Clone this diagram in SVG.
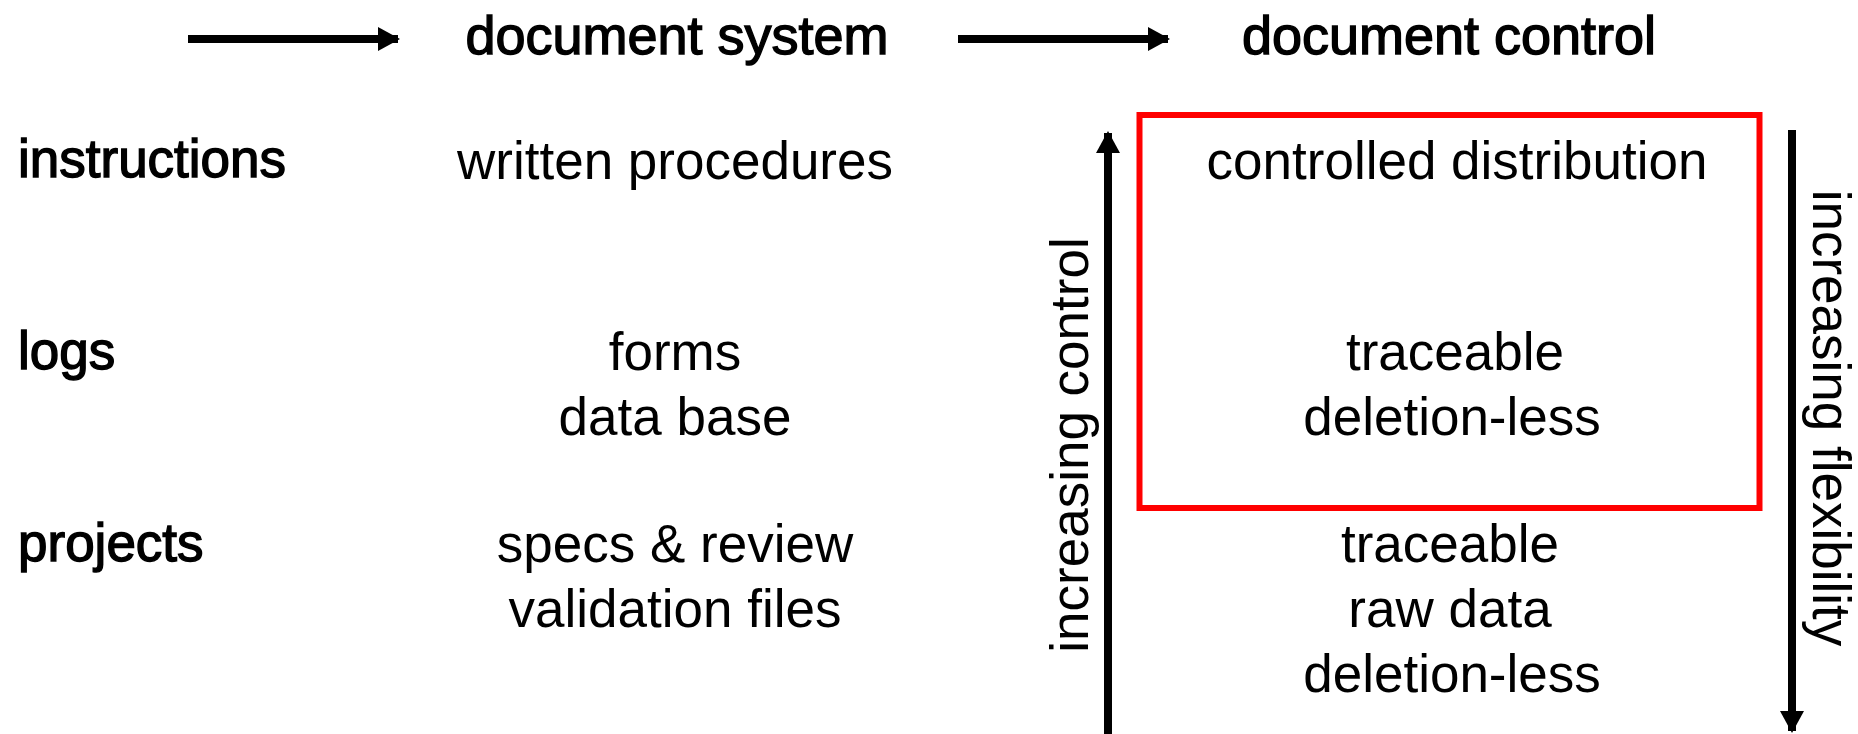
<svg xmlns="http://www.w3.org/2000/svg" width="1858" height="734" viewBox="0 0 1858 734">
<defs>
<style>
text{font-family:"Liberation Sans",Arial,sans-serif;font-size:53px;fill:#000}
.c{text-anchor:middle}
.b{stroke:#000;stroke-width:1.4}
.h{font-size:54px}
.ln{stroke:#000;stroke-width:8;fill:none}
</style>
<marker id="ah" viewBox="0 0 22 24" refX="20" refY="12" markerWidth="22" markerHeight="24" markerUnits="userSpaceOnUse" orient="auto">
<path d="M0,0 L22,12 L0,24 Z" fill="#000"/>
</marker>
</defs>
<rect width="1858" height="734" fill="#fff"/>
<g id="connectors">
<line class="ln" x1="188" y1="39" x2="398" y2="39" marker-end="url(#ah)"/>
<line class="ln" x1="958" y1="39" x2="1168" y2="39" marker-end="url(#ah)"/>
<line class="ln" x1="1108" y1="734" x2="1108" y2="133" marker-end="url(#ah)"/>
<line class="ln" x1="1792" y1="130" x2="1792" y2="731" marker-end="url(#ah)"/>
</g>
<g id="header-system"><text class="c b h" x="677" y="54">document system</text></g>
<g id="header-control"><text class="c b h" x="1449" y="54">document control</text></g>
<g id="row-instructions"><text class="b" x="18" y="177">instructions</text></g>
<g id="row-logs"><text class="b" x="18" y="369">logs</text></g>
<g id="row-projects"><text class="b" x="18" y="561">projects</text></g>
<g id="sys-instructions"><text class="c" x="675" y="179">written procedures</text></g>
<g id="sys-logs"><text class="c" x="675" y="370">forms</text><text class="c" x="675" y="435">data base</text></g>
<g id="sys-projects"><text class="c" x="675" y="562">specs &amp; review</text><text class="c" x="675" y="627">validation files</text></g>
<g id="control-box">
<rect x="1139.5" y="115" width="620" height="393" fill="none" stroke="#f00" stroke-width="6"/>
<text class="c" x="1457" y="179">controlled distribution</text>
<text class="c" x="1455" y="370">traceable</text>
<text class="c" x="1452" y="435">deletion-less</text>
</g>
<g id="control-projects">
<text class="c" x="1450" y="562">traceable</text>
<text class="c" x="1450" y="627">raw data</text>
<text class="c" x="1452" y="692">deletion-less</text>
</g>
<g id="label-control"><text class="c" transform="translate(1088,445) rotate(-90)">increasing control</text></g>
<g id="label-flexibility"><text class="c" transform="translate(1813,418) rotate(90)">increasing flexibility</text></g>
</svg>
